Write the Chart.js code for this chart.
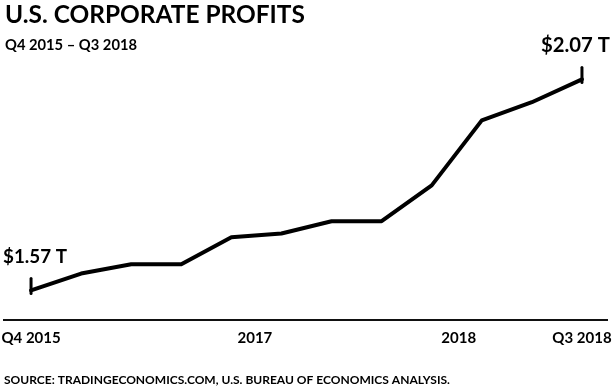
<!DOCTYPE html>
<html>
<head>
<meta charset="utf-8">
<script src="https://cdn.jsdelivr.net/npm/chart.js@4.4.1/dist/chart.umd.min.js"></script>
<style>
  html, body { margin: 0; padding: 0; background: #fff; }
  canvas { display: block; }
</style>
</head>
<body>
<canvas id="c" width="612" height="387"></canvas>
<script>
// ---- data ----
const quarters = ['Q4 2015','Q1 2016','Q2 2016','Q3 2016','Q4 2016','Q1 2017','Q2 2017','Q3 2017','Q4 2017','Q1 2018','Q2 2018','Q3 2018'];
const profits = [1.570, 1.610, 1.632, 1.632, 1.696, 1.705, 1.734, 1.734, 1.819, 1.973, 2.016, 2.070];
const tickValues = [0, 4.47, 8.54, 11];
const tickLabels = ['Q4 2015', '2017', '2018', 'Q3 2018'];
const titleText = 'U.S. CORPORATE PROFITS';
const subtitleText = 'Q4 2015 \u2013 Q3 2018';
const sourceText = 'SOURCE: TRADINGECONOMICS.COM, U.S. BUREAU OF ECONOMICS ANALYSIS.';
const startLabel = '$1.57 T';
const endLabel = '$2.07 T';

const FAMILY = 'Lato, "Open Sans", sans-serif';

function fitFont(ctx, text, width, weight) {
  ctx.font = weight + ' 100px ' + FAMILY;
  const w = ctx.measureText(text).width;
  const size = 100 * width / w;
  return weight + ' ' + size.toFixed(2) + 'px ' + FAMILY;
}

const textPlugin = {
  id: 'texts',
  afterDraw(chart) {
    const ctx = chart.ctx;
    const meta = chart.getDatasetMeta(0);
    const p0 = meta.data[0], p1 = meta.data[meta.data.length - 1];
    ctx.save();
    ctx.strokeStyle = '#000';
    ctx.lineWidth = 3;
    ctx.lineCap = 'round';
    [p0, p1].forEach(p => {
      ctx.beginPath();
      ctx.moveTo(p.x, p.y - 12);
      ctx.lineTo(p.x, p.y + 3);
      ctx.stroke();
    });
    ctx.fillStyle = '#000';
    ctx.textBaseline = 'alphabetic';
    ctx.textAlign = 'left';
    ctx.font = fitFont(ctx, titleText, 300, 'bold');
    ctx.fillText(titleText, 5, 23);
    ctx.font = fitFont(ctx, subtitleText, 132, 'bold');
    ctx.fillText(subtitleText, 5, 50);
    ctx.font = fitFont(ctx, sourceText, 446, 'bold');
    ctx.fillText(sourceText, 4, 384);
    ctx.font = fitFont(ctx, startLabel, 64, 'bold');
    ctx.fillText(startLabel, p0.x - 28, p0.y - 27);
    ctx.font = fitFont(ctx, endLabel, 69, 'bold');
    ctx.textAlign = 'right';
    ctx.fillText(endLabel, p1.x + 28, p1.y - 27);
    ctx.restore();
  }
};

new Chart(document.getElementById('c'), {
  type: 'line',
  data: {
    labels: quarters,
    datasets: [{
      data: profits.map((v, i) => ({ x: i, y: v })),
      borderColor: '#000',
      borderWidth: 4,
      pointRadius: 0,
      tension: 0,
      borderJoinStyle: 'round',
      borderCapStyle: 'round',
      fill: false,
      clip: false
    }]
  },
  options: {
    responsive: false,
    animation: false,
    events: [],
    layout: { autoPadding: false, padding: { top: 60, left: 4, right: 5, bottom: 40 } },
    plugins: { legend: { display: false }, tooltip: { enabled: false }, title: { display: false } },
    scales: {
      x: {
        type: 'linear',
        min: -0.54,
        max: 11.5,
        afterBuildTicks: (s) => { s.ticks = tickValues.map(v => ({ value: v })); },
        afterFit: (s) => { s.paddingLeft = 0; s.paddingRight = 0; s.paddingTop = 0; s.paddingBottom = 0; s.height = 27; },
        ticks: {
          autoSkip: false,
          maxRotation: 0,
          padding: 9,
          color: '#000',
          font: { family: FAMILY, size: 15, weight: 'bold' },
          callback: (v) => { const i = tickValues.indexOf(v); return i >= 0 ? tickLabels[i] : ''; }
        },
        grid: { display: false, drawTicks: false, tickLength: 0 },
        border: { display: true, color: '#111', width: 2 }
      },
      y: {
        display: false,
        min: 1.5,
        max: 2.116
      }
    }
  },
  plugins: [textPlugin]
});
</script>
</body>
</html>
